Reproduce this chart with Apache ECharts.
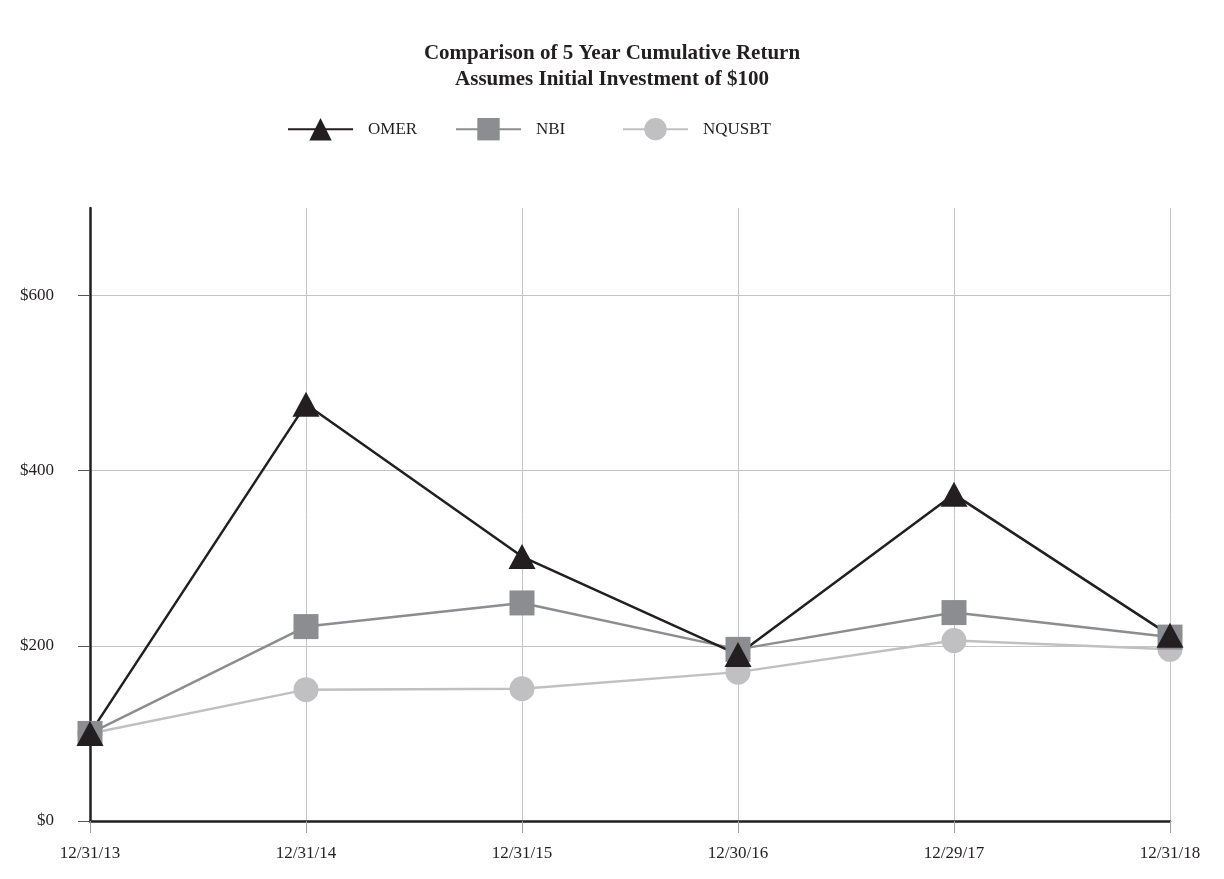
<!DOCTYPE html>
<html>
<head>
<meta charset="utf-8">
<script src="https://cdn.jsdelivr.net/npm/echarts@6/dist/echarts.min.js"></script>
<style>
  html, body { margin: 0; padding: 0; background: #fff; }
  #chart { width: 1224px; height: 879px; }
</style>
</head>
<body>
<div id="chart"></div>
<script>
const dates = ['12/31/13', '12/31/14', '12/31/15', '12/30/16', '12/29/17', '12/31/18']
const omer = [100, 476, 302, 190, 373, 212]
const nbi = [100, 222, 249, 196, 238, 210]
const nqusbt = [100, 150, 151, 170, 206, 196]
const yTicks = [0, 200, 400, 600]
const legendNames = ['OMER', 'NBI', 'NQUSBT']
const legendLeft = [282, 450, 617]

const font = '"Liberation Serif", "DejaVu Serif", serif'
const ink = '#231f20'

var myChart = echarts.init(document.getElementById('chart'))

// one legend per item so the spacing can follow the original
const legends = legendNames.map((name, i) => ({
	data: [name],
	left: legendLeft[i],
	top: 113,
	itemWidth: 65,
	itemHeight: 28,
	textStyle: { fontFamily: font, fontSize: 17, color: ink, padding: [0, 0, 0, 10] }
}))

let option = {
	animation: false,
	textStyle: { fontFamily: font },
	title: {
		text: 'Comparison of 5 Year Cumulative Return\nAssumes Initial Investment of $100',
		left: 'center',
		top: 36,
		textStyle: { fontFamily: font, fontSize: 21, fontWeight: 'bold', color: ink, lineHeight: 26 }
	},
	legend: legends,
	grid: { left: 90, right: 54, top: 208, bottom: 58 },
	xAxis: {
		type: 'category',
		data: dates,
		boundaryGap: false,
		axisLine: { lineStyle: { color: ink, width: 2.5 } },
		axisTick: { show: true, length: 12, lineStyle: { color: '#a0a0a0', width: 1 } },
		axisLabel: { fontFamily: font, fontSize: 17, color: ink, margin: 24 },
		splitLine: { show: true, lineStyle: { color: '#c4c4c4', width: 1 } }
	},
	yAxis: {
		type: 'value',
		min: 0,
		max: 700,
		interval: 200,
		axisLine: { show: true, lineStyle: { color: ink, width: 2.5 } },
		axisTick: { show: true, length: 12, customValues: yTicks, lineStyle: { color: '#555', width: 1 } },
		axisLabel: {
			fontFamily: font, fontSize: 17, color: ink, margin: 36,
			customValues: yTicks,
			formatter: (v) => '$' + v
		},
		splitLine: { show: true, lineStyle: { color: '#c4c4c4', width: 1 } }
	},
	series: [
		{
			name: 'NQUSBT', type: 'line', data: nqusbt,
			symbol: 'circle', symbolSize: 25,
			lineStyle: { color: '#c0c0c2', width: 2.5 },
			itemStyle: { color: '#c0c0c2' }
		},
		{
			name: 'NBI', type: 'line', data: nbi,
			symbol: 'rect', symbolSize: 25,
			lineStyle: { color: '#8c8d90', width: 2.5 },
			itemStyle: { color: '#8c8d90' }
		},
		{
			name: 'OMER', type: 'line', data: omer,
			symbol: 'triangle', symbolSize: [27, 25],
			lineStyle: { color: ink, width: 2.5 },
			itemStyle: { color: ink }
		}
	]
}
myChart.setOption(option)
</script>
</body>
</html>
